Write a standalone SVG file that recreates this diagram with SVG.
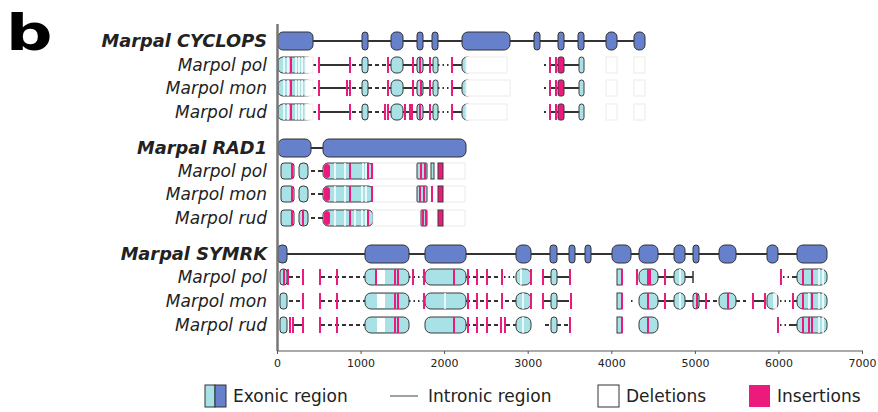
<svg xmlns="http://www.w3.org/2000/svg" width="878" height="412" viewBox="0 0 878 412">
<style>
text{font-family:"DejaVu Sans",Verdana,sans-serif;fill:#222}
.lbl{font-size:17px;font-style:italic;text-anchor:end}
.gl{font-weight:bold;font-size:17.8px}
.tk{font-size:11px;text-anchor:middle}
.lg{font-size:17px}
.ge{fill:#6680cc;stroke:#333;stroke-width:1}
.ae{fill:#a8e2e6;stroke:#3a3a3a;stroke-width:1}
.pe{fill:#ec1a7d;stroke:#3a3a3a;stroke-width:1}
.pk{fill:#ec1a7d}
.in{stroke:#333;stroke-width:2;fill:none}
.da{stroke:#333;stroke-width:2;fill:none;stroke-dasharray:4 3}
.dt{stroke:#333;stroke-width:2;fill:none;stroke-dasharray:1.5 3}
.ins{stroke:#ec1a7d;stroke-width:2;fill:none}
.ws{stroke:#fff;stroke-width:1.5;fill:none}
.del{fill:#fff;stroke:#ebebeb;stroke-width:1}
.ax{stroke:#555;stroke-width:1;fill:none}
</style>

<text x="0" y="0" transform="translate(6 50) scale(1.3 1)" style="font-size:50px;font-weight:bold;fill:#000">b</text>

<g id="labels">
<text class="lbl gl" x="267" y="47">Marpal CYCLOPS</text>
<text class="lbl" x="267" y="71">Marpol pol</text>
<text class="lbl" x="267" y="94">Marpol mon</text>
<text class="lbl" x="267" y="118">Marpol rud</text>
<text class="lbl gl" x="267" y="154">Marpal RAD1</text>
<text class="lbl" x="267" y="177">Marpol pol</text>
<text class="lbl" x="267" y="200">Marpol mon</text>
<text class="lbl" x="267" y="224">Marpol rud</text>
<text class="lbl gl" x="267" y="260">Marpal SYMRK</text>
<text class="lbl" x="267" y="283">Marpol pol</text>
<text class="lbl" x="267" y="307">Marpol mon</text>
<text class="lbl" x="267" y="331">Marpol rud</text>
</g>

<!-- CYCLOPS -->
<g id="cyclops-gene">
<path class="in" d="M278 41H645"/>
<rect class="ge" x="278" y="32" width="35" height="18" rx="5"/>
<rect class="ge" x="362" y="32" width="6" height="18" rx="3"/>
<rect class="ge" x="391" y="32" width="12" height="18" rx="5"/>
<rect class="ge" x="417" y="32" width="6" height="18" rx="3"/>
<rect class="ge" x="432" y="32" width="6" height="18" rx="3"/>
<rect class="ge" x="462" y="32" width="48" height="18" rx="6"/>
<rect class="ge" x="534" y="32" width="6" height="18" rx="3"/>
<rect class="ge" x="558" y="32" width="6" height="18" rx="3"/>
<rect class="ge" x="578" y="32" width="6" height="18" rx="3"/>
<rect class="ge" x="606" y="32" width="11" height="18" rx="5"/>
<rect class="ge" x="634" y="32" width="11" height="18" rx="5"/>
</g>
<g id="cyclops-pol">
<path class="in" d="M313 65h3M319 65H350M388 65H391M403 65H418M423 65H433M452 65H462M544 65h2M550 65H558M564 65H579"/>
<path class="da" d="M352 65H362M368 65H388"/>
<path class="dt" d="M438 65H450"/>
<rect class="ae" x="278" y="57" width="34" height="16" rx="5"/>
<path class="ws" d="M284 57v16M288 57v16M296 57v16M299 57v16M302 57v16"/>
<rect class="del" x="305" y="57" width="8" height="16"/>
<rect class="ae" x="362" y="57" width="6" height="16" rx="3"/>
<rect class="ae" x="391" y="57" width="12" height="16" rx="5"/>
<rect class="ae" x="417" y="57" width="6" height="16" rx="3"/>
<rect class="ae" x="433" y="57" width="5" height="16" rx="2.5"/>
<rect class="ae" x="462" y="57" width="10" height="16" rx="5"/>
<rect class="del" x="466" y="57" width="41" height="16"/>
<rect class="pe" x="558" y="57" width="6" height="16" rx="2"/>
<rect class="ae" x="579" y="57" width="5" height="16" rx="2.5"/>
<rect class="del" x="606" y="57" width="11" height="16"/>
<rect class="del" x="634" y="57" width="11" height="16"/>
<path class="ins" d="M291 57v16M319 57v16M350 57v16M388 57v16M413 57v16M420 57v16M430 57v16M452 57v16M550 57v16M556 57v16"/>
</g>
<g id="cyclops-mon">
<path class="in" d="M313 88h3M319 88H350M388 88H391M403 88H418M423 88H433M452 88H462M544 88h2M550 88H558M564 88H579"/>
<path class="da" d="M352 88H362M368 88H388"/>
<path class="dt" d="M438 88H450"/>
<rect class="ae" x="278" y="80" width="34" height="16" rx="5"/>
<path class="ws" d="M284 80v16M288 80v16M296 80v16M299 80v16M302 80v16"/>
<rect class="del" x="305" y="80" width="8" height="16"/>
<rect class="ae" x="362" y="80" width="6" height="16" rx="3"/>
<rect class="ae" x="391" y="80" width="12" height="16" rx="5"/>
<rect class="ae" x="417" y="80" width="6" height="16" rx="3"/>
<rect class="ae" x="433" y="80" width="5" height="16" rx="2.5"/>
<rect class="ae" x="462" y="80" width="10" height="16" rx="5"/>
<rect class="del" x="466" y="80" width="44" height="16"/>
<rect class="pe" x="558" y="80" width="6" height="16" rx="2"/>
<rect class="ae" x="579" y="80" width="5" height="16" rx="2.5"/>
<rect class="del" x="606" y="80" width="11" height="16"/>
<rect class="del" x="634" y="80" width="11" height="16"/>
<path class="ins" d="M291 80v16M319 80v16M347 80v16M350 80v16M388 80v16M413 80v16M421 80v16M430 80v16M452 80v16M550 80v16M556 80v16"/>
</g>
<g id="cyclops-rud">
<path class="in" d="M313 112h3M319 112H350M388 112H391M403 112H418M423 112H433M452 112H462M544 112h2M550 112H558M564 112H579"/>
<path class="da" d="M352 112H362M368 112H385"/>
<path class="dt" d="M438 112H450"/>
<rect class="ae" x="278" y="104" width="34" height="16" rx="5"/>
<path class="ws" d="M284 104v16M288 104v16M296 104v16M299 104v16M302 104v16"/>
<rect class="del" x="305" y="104" width="8" height="16"/>
<rect class="ae" x="362" y="104" width="6" height="16" rx="3"/>
<rect class="ae" x="391" y="104" width="12" height="16" rx="5"/>
<rect class="ae" x="417" y="104" width="6" height="16" rx="3"/>
<rect class="ae" x="433" y="104" width="5" height="16" rx="2.5"/>
<rect class="ae" x="462" y="104" width="10" height="16" rx="5"/>
<rect class="del" x="466" y="104" width="41" height="16"/>
<rect class="pe" x="558" y="104" width="6" height="16" rx="2"/>
<rect class="ae" x="579" y="104" width="5" height="16" rx="2.5"/>
<rect class="del" x="606" y="104" width="11" height="16"/>
<rect class="del" x="634" y="104" width="11" height="16"/>
<path class="ins" d="M291 104v16M319 104v16M350 104v16M385 104v16M388 104v16M405 104v16M410 104v16M412 104v16M420 104v16M430 104v16M452 104v16M550 104v16M556 104v16"/>
</g>

<!-- RAD1 -->
<g id="rad1-gene">
<path class="in" d="M311 148H323"/>
<rect class="ge" x="278" y="139" width="33" height="18" rx="6"/>
<rect class="ge" x="323" y="139" width="143" height="18" rx="6"/>
</g>
<g id="rad1-pol">
<path class="da" d="M311 171H320"/><path class="in" d="M320 171H323"/>
<rect class="ae" x="281" y="163" width="13" height="16" rx="3"/>
<rect class="ae" x="299" y="163" width="9" height="16" rx="4"/>
<rect class="ae" x="323" y="163" width="50" height="16" rx="5"/>
<rect class="pk" x="324" y="164" width="6" height="14" rx="3"/>
<path class="ws" d="M335 163v16M345 163v16M363 163v16M366 163v16"/>
<rect class="del" x="373" y="163" width="92" height="16"/>
<rect class="ae" x="417" y="163" width="10" height="16" rx="1"/>
<rect class="ae" x="431" y="163" width="3" height="16"/>
<rect class="pe" x="438" y="163" width="5" height="16"/>
<path class="ins" d="M292 163v16M350 163v16M368 163v16M372 163v16M421 163v16M425 163v16"/>
</g>
<g id="rad1-mon">
<path class="da" d="M311 194H320"/><path class="in" d="M320 194H323"/>
<rect class="ae" x="281" y="186" width="13" height="16" rx="3"/>
<rect class="ae" x="299" y="186" width="9" height="16" rx="4"/>
<rect class="ae" x="323" y="186" width="50" height="16" rx="5"/>
<rect class="pk" x="324" y="187" width="6" height="14" rx="3"/>
<path class="ws" d="M335 186v16M345 186v16M362 186v16M366 186v16"/>
<rect class="del" x="373" y="186" width="92" height="16"/>
<rect class="ae" x="417" y="186" width="10" height="16" rx="1"/>
<rect class="pe" x="438" y="186" width="5" height="16"/>
<path class="ins" d="M292 186v16M350 186v16M372 186v16M420 186v16M424 186v16M432 186v16"/>
</g>
<g id="rad1-rud">
<path class="da" d="M311 218H320"/><path class="in" d="M320 218H323"/>
<rect class="ae" x="281" y="210" width="13" height="16" rx="3"/>
<rect class="ae" x="299" y="210" width="9" height="16" rx="4"/>
<rect class="ae" x="323" y="210" width="50" height="16" rx="5"/>
<rect class="pk" x="324" y="211" width="6" height="14" rx="3"/>
<path class="ws" d="M335 210v16M345 210v16M355 210v16M362 210v16M366 210v16"/>
<rect class="del" x="373" y="210" width="92" height="16"/>
<rect class="ae" x="421" y="210" width="6" height="16" rx="1"/>
<rect class="pe" x="438" y="210" width="5" height="16"/>
<path class="ins" d="M292 210v16M303 210v16M350 210v16M368 210v16M423 210v16M426 210v16"/>
</g>

<!-- SYMRK -->
<g id="symrk-gene">
<path class="in" d="M278 254H827"/>
<rect class="ge" x="278" y="245" width="9" height="18" rx="4"/>
<rect class="ge" x="365" y="245" width="44" height="18" rx="6"/>
<rect class="ge" x="425" y="245" width="41" height="18" rx="6"/>
<rect class="ge" x="516" y="245" width="15" height="18" rx="6"/>
<rect class="ge" x="550" y="245" width="7" height="18" rx="3"/>
<rect class="ge" x="569" y="245" width="6" height="18" rx="3"/>
<rect class="ge" x="585" y="245" width="6" height="18" rx="3"/>
<rect class="ge" x="612" y="245" width="19" height="18" rx="6"/>
<rect class="ge" x="639" y="245" width="19" height="18" rx="6"/>
<rect class="ge" x="674" y="245" width="11" height="18" rx="5"/>
<rect class="ge" x="693" y="245" width="6" height="18" rx="3"/>
<rect class="ge" x="719" y="245" width="17" height="18" rx="6"/>
<rect class="ge" x="767" y="245" width="11" height="18" rx="5"/>
<rect class="ge" x="797" y="245" width="30" height="18" rx="6"/>
</g>
<g id="symrk-pol">
<path class="da" d="M289 277H302M321 277H365M466 277H502"/>
<path class="dt" d="M409 277H425M504 277H516M783 277H792"/>
<path class="in" d="M543 277H551M557 277H569M658 277H674M685 277H693M792 277H797"/>
<path stroke="#333" stroke-width="1.5" d="M693 271v12"/>
<rect class="ae" x="280" y="269" width="7" height="16" rx="3"/>
<rect class="ae" x="365" y="269" width="44" height="16" rx="6"/>
<rect fill="#fff" x="377" y="270" width="8" height="14"/>
<rect class="ae" x="425" y="269" width="41" height="16" rx="6"/>
<rect class="ae" x="516" y="269" width="15" height="16" rx="6"/>
<rect class="ae" x="551" y="269" width="6" height="16" rx="3"/>
<rect class="ae" x="617" y="269" width="5" height="16"/>
<rect class="ae" x="639" y="269" width="19" height="16" rx="6"/>
<rect class="ae" x="674" y="269" width="11" height="16" rx="5"/>
<rect class="ae" x="797" y="269" width="30" height="16" rx="6"/>
<path class="ws" d="M521 269v16M680 269v16M819 269v16M823 269v16"/>
<path class="ins" d="M284 269v16M288 269v16M303 269v16M320 269v16M337 269v16M376 269v16M395 269v16M398 269v16M413 269v16M424 269v16M454 269v16M468 269v16M477 269v16M487 269v16M502 269v16M531 269v16M543 269v16M570 269v16M622 269v16M637 269v16M648 269v16M650 269v16M665 269v16M781 269v16M803 269v16M812 269v16"/>
</g>
<g id="symrk-mon">
<path class="da" d="M289 301H302M321 301H365M466 301H502M505 301H516M706 301H719M736 301H746"/>
<path class="dt" d="M409 301H425M780 301H792M631 301h2"/>
<path class="in" d="M543 301H551M557 301H569M658 301H674M685 301H693M699 301H706M753 301H765M792 301H797"/>
<rect class="ae" x="280" y="293" width="7" height="16" rx="3"/>
<rect class="ae" x="365" y="293" width="44" height="16" rx="6"/>
<rect fill="#fff" x="377" y="294" width="8" height="14"/>
<rect class="ae" x="425" y="293" width="41" height="16" rx="6"/>
<rect class="ae" x="516" y="293" width="15" height="16" rx="6"/>
<rect class="ae" x="551" y="293" width="6" height="16" rx="3"/>
<rect class="ae" x="617" y="293" width="5" height="16"/>
<rect class="ae" x="639" y="293" width="19" height="16" rx="6"/>
<rect class="ae" x="674" y="293" width="11" height="16" rx="5"/>
<rect class="ae" x="693" y="293" width="6" height="16" rx="3"/>
<rect class="ae" x="719" y="293" width="17" height="16" rx="6"/>
<rect class="ae" x="767" y="293" width="11" height="16" rx="5"/>
<rect class="ae" x="797" y="293" width="30" height="16" rx="6"/>
<path class="ws" d="M445 293v16M523 293v16M680 293v16M774 293v16M776 293v16M809 293v16M819 293v16M823 293v16"/>
<path class="ins" d="M303 293v16M320 293v16M337 293v16M395 293v16M398 293v16M424 293v16M468 293v16M477 293v16M487 293v16M502 293v16M531 293v16M543 293v16M571 293v16M622 293v16M648 293v16M665 293v16M697 293v16M706 293v16M728 293v16M753 293v16M765 293v16M793 293v16M803 293v16M812 293v16"/>
</g>
<g id="symrk-rud">
<path class="da" d="M321 325H365M466 325H501M506 325H516M545 325H551M557 325H569"/>
<path class="dt" d="M780 325H790"/>
<path class="in" d="M293 325H302M790 325H797"/>
<rect class="ae" x="280" y="317" width="7" height="16" rx="3"/>
<rect class="ae" x="365" y="317" width="44" height="16" rx="6"/>
<rect fill="#fff" x="377" y="318" width="8" height="14"/>
<rect class="ae" x="425" y="317" width="41" height="16" rx="6"/>
<rect class="ae" x="516" y="317" width="15" height="16" rx="6"/>
<rect class="ae" x="551" y="317" width="6" height="16" rx="3"/>
<rect class="ae" x="617" y="317" width="5" height="16"/>
<rect class="ae" x="639" y="317" width="19" height="16" rx="6"/>
<rect class="ae" x="797" y="317" width="30" height="16" rx="6"/>
<path class="ws" d="M523 317v16M819 317v16M823 317v16"/>
<path class="ins" d="M290 317v16M293 317v16M303 317v16M320 317v16M337 317v16M395 317v16M398 317v16M454 317v16M468 317v16M477 317v16M487 317v16M501 317v16M505 317v16M570 317v16M622 317v16M648 317v16M778 317v16M803 317v16M809 317v16M812 317v16"/>
</g>

<g id="axis">
<path d="M277.5 24V351" stroke="#777" stroke-width="2.5" fill="none"/>
<path class="ax" d="M277 351H863M277.5 351v3M361.1 351v3M444.6 351v3M528.2 351v3M611.8 351v3M695.4 351v3M778.9 351v3M862.5 351v3"/>
<text class="tk" x="277.5" y="367">0</text>
<text class="tk" x="361.1" y="367">1000</text>
<text class="tk" x="444.6" y="367">2000</text>
<text class="tk" x="528.2" y="367">3000</text>
<text class="tk" x="611.8" y="367">4000</text>
<text class="tk" x="695.4" y="367">5000</text>
<text class="tk" x="778.9" y="367">6000</text>
<text class="tk" x="862.5" y="367">7000</text>
</g>

<g id="legend">
<rect x="205" y="385" width="10" height="22" fill="#a8e2e6" stroke="#333"/>
<rect x="215" y="385" width="11" height="22" fill="#6680cc" stroke="#333"/>
<text class="lg" x="233" y="402">Exonic region</text>
<path d="M390 396H418" stroke="#444" stroke-width="1"/>
<text class="lg" x="428" y="402">Intronic region</text>
<rect x="598" y="385" width="21" height="22" fill="#fff" stroke="#333"/>
<text class="lg" x="626" y="402">Deletions</text>
<rect x="749" y="385" width="21" height="22" fill="#ec1a7d"/>
<text class="lg" x="777" y="402">Insertions</text>
</g>
</svg>
